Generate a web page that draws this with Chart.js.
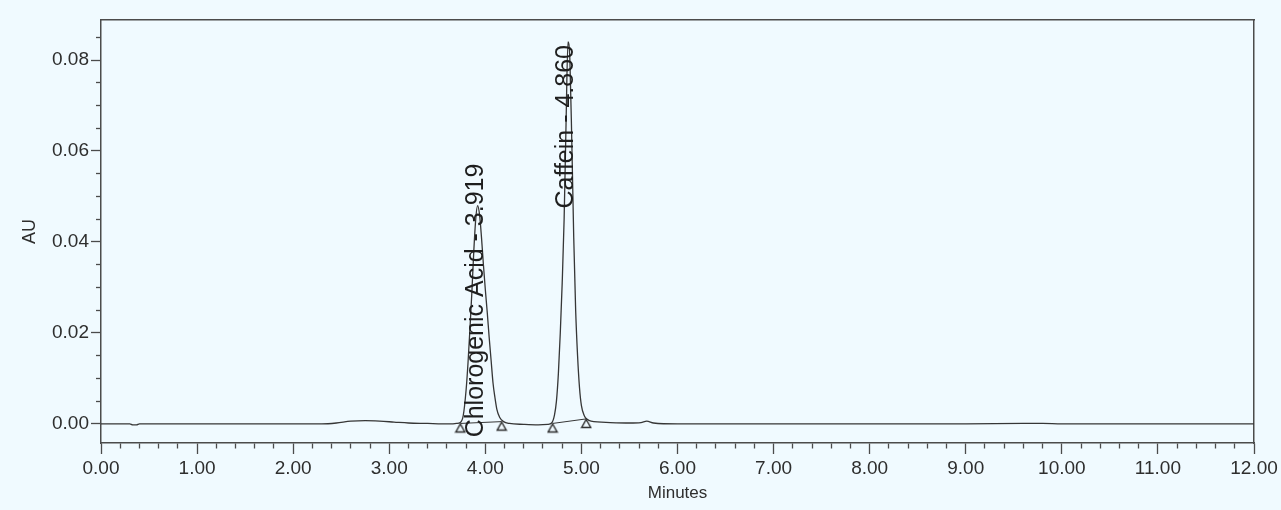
<!DOCTYPE html>
<html>
<head>
<meta charset="utf-8">
<title>Chromatogram</title>
<script src="https://cdn.jsdelivr.net/npm/chart.js@4.4.1/dist/chart.umd.min.js"></script>
<style>
  html, body { margin: 0; padding: 0; background: #f0faff; }
  canvas { display: block; }
</style>
</head>
<body>
<canvas id="chromChart" width="1281" height="510"></canvas>
<script>
// detector trace: retention time (min) and absorbance (AU)
const traceTime = [
  0.00, 0.30, 0.33, 0.37, 0.40, 1.00, 2.00, 2.30, 2.45, 2.60, 2.75, 2.90, 3.05, 3.20, 3.40, 3.55, 3.65,
  3.70, 3.74, 3.77, 3.80, 3.82, 3.84, 3.86, 3.88, 3.90, 3.919, 3.94, 3.96, 3.98, 4.00, 4.02, 4.04, 4.06,
  4.08, 4.10, 4.12, 4.15, 4.19, 4.25, 4.40, 4.55, 4.65,
  4.69, 4.72, 4.74, 4.76, 4.78, 4.80, 4.82, 4.84, 4.86, 4.88, 4.90, 4.92, 4.94, 4.96, 4.98, 5.00, 5.03,
  5.06, 5.10, 5.30, 5.50, 5.62, 5.68, 5.75, 6.00, 7.00, 8.00, 9.00, 9.60, 9.80, 10.00, 11.00, 12.00
];
const traceAU = [
  0.0000, 0.0000, -0.0002, -0.0002, 0.0000, 0.0000, 0.0000, 0.0000, 0.0002, 0.0006, 0.0007, 0.0006, 0.0004, 0.0002, 0.0001, 0.0000, 0.0000,
  0.0001, 0.0003, 0.0018, 0.0075, 0.0135, 0.0210, 0.0290, 0.0380, 0.0450, 0.0480, 0.0460, 0.0410, 0.0350, 0.0295, 0.0245, 0.0190, 0.0140,
  0.0090, 0.0058, 0.0032, 0.0014, 0.0005, 0.0001, -0.0001, -0.0002, -0.0001,
  0.0002, 0.0020, 0.0050, 0.0110, 0.0200, 0.0310, 0.0450, 0.0660, 0.0840, 0.0800, 0.0620, 0.0410, 0.0250, 0.0150, 0.0080, 0.0040, 0.0018,
  0.0010, 0.0006, 0.0003, 0.0002, 0.0003, 0.0006, 0.0002, 0.0000, 0.0000, 0.0000, 0.0000, 0.0001, 0.0001, 0.0000, 0.0000, 0.0000
];

// integration start/end marks (two per peak)
const markTime = [3.74, 4.17, 4.70, 5.05];
const markAU = [0.0001, 0.0005, 0.0001, 0.0011];

// identified peaks
const peakNames = ['Chlorogenic Acid', 'Caffein'];
const peakTimes = [3.919, 4.860];

// axes
const xRange = [0, 12];
const xMinorStep = 0.2;
const xMajorStep = 1;
const yRange = [-0.0042, 0.0888];
const yMinorStep = 0.005;
const yMajorStep = 0.02;

const BG = '#f0faff';
const INK = '#363636';
const AXIS = '#4b4b4b';
const TEXT = '#2e2e2e';
const FONT = "'Liberation Sans', Arial, sans-serif";

Chart.defaults.font.family = FONT;

function isMajor(v, step) {
  return Math.abs(v / step - Math.round(v / step)) < 1e-6;
}

// open triangle whose tip sits on the point
function makeTriangle() {
  const c = document.createElement('canvas');
  c.width = 12;
  c.height = 22;
  const g = c.getContext('2d');
  g.fillStyle = BG;
  g.strokeStyle = '#2a2a2a';
  g.lineWidth = 1.4;
  g.beginPath();
  g.moveTo(6, 11.5);
  g.lineTo(10.5, 19.5);
  g.lineTo(1.5, 19.5);
  g.closePath();
  g.fill();
  g.stroke();
  return c;
}

// vertical peak names, written upward just right of each apex
const peakLabels = {
  id: 'peakLabels',
  afterDatasetsDraw(chart) {
    const { ctx, chartArea, scales: { x, y } } = chart;
    ctx.save();
    ctx.fillStyle = '#1e1e1e';
    ctx.font = '25px ' + FONT;
    ctx.textAlign = 'right';
    ctx.textBaseline = 'alphabetic';
    peakNames.forEach((name, i) => {
      const rt = peakTimes[i];
      let apex = 0;
      traceTime.forEach((t, j) => {
        if (Math.abs(t - rt) < 0.05) apex = Math.max(apex, traceAU[j]);
      });
      const px = x.getPixelForValue(rt);
      const top = Math.max(y.getPixelForValue(apex) - 42, chartArea.top + 25);
      ctx.save();
      ctx.translate(px + 5.5, top);
      ctx.rotate(-Math.PI / 2);
      ctx.fillText(`${name} - ${rt.toFixed(3)}`, 0, 0);
      ctx.restore();
    });
    ctx.restore();
  }
};

const traceData = traceTime.map((t, i) => ({ x: t, y: traceAU[i] }));
const markData = markTime.map((t, i) => ({ x: t, y: markAU[i] }));

const baseLine = (a, b) => ({
  type: 'line',
  data: [markData[a], markData[b]],
  borderColor: INK,
  borderWidth: 1,
  pointRadius: 0,
  order: 2
});

new Chart(document.getElementById('chromChart'), {
  type: 'line',
  data: {
    datasets: [
      {
        data: traceData,
        borderColor: INK,
        borderWidth: 1.3,
        pointRadius: 0,
        cubicInterpolationMode: 'monotone',
        order: 1
      },
      baseLine(0, 1),
      baseLine(2, 3),
      {
        data: markData,
        showLine: false,
        pointStyle: makeTriangle(),
        pointRadius: 5,
        order: 0
      }
    ]
  },
  options: {
    responsive: false,
    animation: false,
    devicePixelRatio: 1,
    layout: { padding: { left: 0, right: 27, top: 20, bottom: 0 } },
    plugins: {
      legend: { display: false },
      tooltip: { enabled: false }
    },
    scales: {
      x: {
        type: 'linear',
        position: 'bottom',
        min: xRange[0],
        max: xRange[1],
        afterFit: s => { s.height = 67; },
        ticks: {
          stepSize: xMinorStep,
          autoSkip: false,
          includeBounds: false,
          maxRotation: 0,
          padding: 3,
          color: TEXT,
          font: { size: 19 },
          callback: v => isMajor(v, xMajorStep) ? v.toFixed(2) : ''
        },
        grid: {
          drawOnChartArea: false,
          tickLength: 11,
          tickWidth: 1.3,
          tickColor: AXIS,
          tickBorderDash: c => (c.tick && !isMajor(c.tick.value, xMajorStep)) ? [5, 40] : []
        },
        border: { display: true, color: AXIS, width: 1.5 },
        title: {
          display: true,
          text: 'Minutes',
          color: TEXT,
          font: { size: 17 },
          padding: { top: 0, bottom: 6 }
        }
      },
      y: {
        type: 'linear',
        position: 'left',
        min: yRange[0],
        max: yRange[1],
        afterFit: s => { s.width = 101; },
        ticks: {
          stepSize: yMinorStep,
          autoSkip: false,
          includeBounds: false,
          padding: 2,
          color: TEXT,
          font: { size: 19 },
          callback: v => isMajor(v, yMajorStep) ? v.toFixed(2) : ''
        },
        grid: {
          drawOnChartArea: false,
          tickLength: 10,
          tickWidth: 1.3,
          tickColor: AXIS,
          tickBorderDash: c => (c.tick && !isMajor(c.tick.value, yMajorStep)) ? [5, 5] : [],
          tickBorderDashOffset: 5
        },
        border: { display: true, color: AXIS, width: 1.5 },
        title: {
          display: true,
          text: 'AU',
          color: TEXT,
          font: { size: 18 },
          padding: { top: 19, bottom: 0 }
        }
      },
      xTop: {
        type: 'linear',
        position: 'top',
        min: xRange[0],
        max: xRange[1],
        afterFit: s => { s.height = 0; },
        ticks: { display: false },
        grid: { display: false },
        border: { display: true, color: AXIS, width: 1.5 }
      },
      yRight: {
        type: 'linear',
        position: 'right',
        min: yRange[0],
        max: yRange[1],
        afterFit: s => { s.width = 0; },
        ticks: { display: false },
        grid: { display: false },
        border: { display: true, color: AXIS, width: 1.5 }
      }
    }
  },
  plugins: [peakLabels]
});
</script>
</body>
</html>
